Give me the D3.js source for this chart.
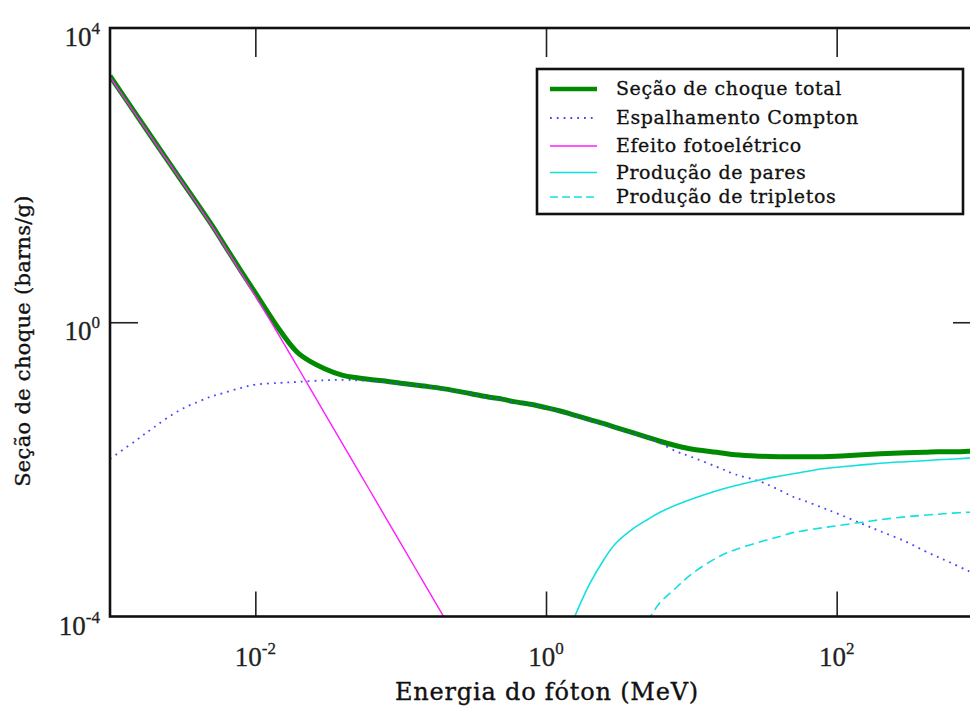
<!DOCTYPE html>
<html>
<head>
<meta charset="utf-8">
<script src="https://cdn.jsdelivr.net/npm/d3@7"></script>
<style>
  html, body { margin: 0; padding: 0; background: #fff; }
  svg { display: block; }
</style>
</head>
<body>
<svg id="chart" width="970" height="706"></svg>
<script>
// Photon energies (MeV) shared by every series
const energy = [0.001, 0.0015, 0.002, 0.003, 0.004, 0.005, 0.006, 0.008, 0.01, 0.015,
  0.02, 0.03, 0.04, 0.05, 0.06, 0.08, 0.1, 0.15, 0.2, 0.3,
  0.4, 0.5, 0.6, 0.8, 1, 1.25, 1.5, 2, 2.5, 3, 4,
  5, 6, 8, 10, 15, 20, 30, 40, 50, 60,
  80, 100, 150, 200, 300, 400, 500, 600, 800, 1000];

// Cross sections (barns/g); null where the process does not contribute
const total = [2228, 685, 298, 92.7, 40.6, 21.2, 12.0, 4.92, 2.51, 0.741,
  0.372, 0.233, 0.190, 0.176, 0.1675, 0.1574, 0.1479, 0.1346, 0.1243, 0.1075,
  0.0964, 0.0902, 0.0834, 0.0760, 0.0691, 0.0621, 0.0561, 0.0475, 0.0418, 0.0373, 0.0314,
  0.0273, 0.0243, 0.0208, 0.0189, 0.01706, 0.01579, 0.01507, 0.01483, 0.01483, 0.01483,
  0.01483, 0.01507, 0.01579, 0.0163, 0.01682, 0.01706, 0.01734, 0.01734, 0.01762, 0.0179];

const compton = [0.0139, 0.0245, 0.0372, 0.0635, 0.0824, 0.0982, 0.109, 0.1285, 0.142, 0.150,
  0.155, 0.1625, 0.165, 0.1625, 0.160, 0.152, 0.1455, 0.1334, 0.1233, 0.1064,
  0.0955, 0.0896, 0.0828, 0.0755, 0.0687, 0.0615, 0.0552, 0.0465, 0.0409, 0.0367, 0.0305,
  0.0269, 0.0230, 0.0173, 0.0148, 0.0108, 0.00857, 0.00679, 0.00528, 0.00425, 0.00374,
  0.00301, 0.00253, 0.00182, 0.00144, 0.00104, 0.000783, 0.00064, 0.000547, 0.000419, 0.000348];

const photo = [2160, 670, 293, 91, 39.6, 20.6, 11.6, 4.63, 2.28, 0.601,
  0.228, 0.0578, 0.0219, 0.0103, 0.00558, 0.00211, 0.000993, 0.000252, 0.0000957, null,
  null, null, null, null, null, null, null, null, null, null, null,
  null, null, null, null, null, null, null, null, null, null,
  null, null, null, null, null, null, null, null, null, null];

const pairs = [null, null, null, null, null, null, null, null, null, null,
  null, null, null, null, null, null, null, null, null, null,
  null, null, null, null, null, null, 0.0000798, 0.000279, 0.000591, 0.000975, 0.00158,
  0.00208, 0.00257, 0.00334, 0.00394, 0.00512, 0.00598, 0.00722, 0.00806, 0.00871, 0.00927,
  0.0102, 0.0107, 0.0115, 0.0121, 0.0127, 0.0131, 0.0135, 0.0137, 0.0142, 0.0144];

const triplets = [null, null, null, null, null, null, null, null, null, null,
  null, null, null, null, null, null, null, null, null, null,
  null, null, null, null, null, null, null, null, null, null, null,
  0.0000849, 0.000149, 0.000254, 0.000376, 0.00063, 0.000809, 0.00104, 0.00121, 0.00138, 0.00147,
  0.00161, 0.00171, 0.00191, 0.00207, 0.00227, 0.00238, 0.00246, 0.00253, 0.00261, 0.00265];

const xTicks = [1e-2, 1, 1e2];
const xTickExp = ["-2", "0", "2"];
const yTicks = [1e4, 1, 1e-4];
const yTickExp = ["4", "0", "-4"];

const legendLabels = ["Seção de choque total", "Espalhamento Compton", "Efeito fotoelétrico",
  "Produção de pares", "Produção de tripletos"];

// ---- layout ----
const plot = { left: 110, right: 982, top: 28, bottom: 616.5 };

const svg = d3.select("#chart");
svg.append("rect").attr("width", 970).attr("height", 706).attr("fill", "#fff");

const x = d3.scaleLog().domain([1e-3, 1e3]).range([plot.left, plot.right]);
const y = d3.scaleLog().domain([1e-4, 1e4]).range([plot.bottom, plot.top]);

svg.append("clipPath").attr("id", "plot-clip")
  .append("rect")
  .attr("x", plot.left).attr("y", plot.top)
  .attr("width", plot.right - plot.left).attr("height", plot.bottom - plot.top);

const series = [
  { values: total,    color: "#008a00", width: 5,   dash: null },
  { values: compton,  color: "#4646ff", width: 1.8, dash: "1.8,5" },
  { values: photo,    color: "#ff1cff", width: 1.4, dash: null },
  { values: pairs,    color: "#12e0e0", width: 1.6, dash: null },
  { values: triplets, color: "#12e0e0", width: 1.6, dash: "9,5" }
];

const line = d3.line()
  .defined(d => d[1] != null)
  .x(d => x(d[0]))
  .y(d => y(d[1]))
  .curve(d3.curveCatmullRom.alpha(0.5));

const curves = svg.append("g").attr("clip-path", "url(#plot-clip)");
series.forEach(s => {
  curves.append("path")
    .datum(energy.map((e, i) => [e, s.values[i]]))
    .attr("d", line)
    .attr("fill", "none")
    .attr("stroke", s.color)
    .attr("stroke-width", s.width)
    .attr("stroke-dasharray", s.dash)
    .attr("stroke-linejoin", "round");
});

// ---- axes: inward ticks on all four sides ----
const tickStyle = g => {
  g.select(".domain").remove();
  g.selectAll(".tick line").attr("stroke", "#222").attr("stroke-width", 1.6);
  g.selectAll(".tick text").remove();
};

svg.append("g").attr("transform", `translate(0,${plot.bottom})`)
  .call(d3.axisBottom(x).tickValues(xTicks).tickSize(-25).tickFormat(""))
  .call(tickStyle);
svg.append("g").attr("transform", `translate(0,${plot.top})`)
  .call(d3.axisTop(x).tickValues(xTicks).tickSize(-29).tickFormat(""))
  .call(tickStyle);
svg.append("g").attr("transform", `translate(${plot.left},0)`)
  .call(d3.axisLeft(y).tickValues([1]).tickSize(-28).tickFormat(""))
  .call(tickStyle);
svg.append("g").attr("transform", `translate(${plot.right},0)`)
  .call(d3.axisRight(y).tickValues([1]).tickSize(-29).tickFormat(""))
  .call(tickStyle);

svg.append("rect")
  .attr("x", plot.left).attr("y", plot.top)
  .attr("width", plot.right - plot.left).attr("height", plot.bottom - plot.top)
  .attr("fill", "none").attr("stroke", "#111").attr("stroke-width", 2.6);

// ---- tick labels as powers of ten ----
const labelFont = "'Liberation Serif', 'Times New Roman', serif";

xTicks.forEach((t, i) => {
  const txt = svg.append("text")
    .attr("x", x(t)).attr("y", plot.bottom + 49)
    .attr("text-anchor", "middle")
    .attr("font-family", labelFont).attr("fill", "#222")
    .attr("stroke", "#222").attr("stroke-width", 0.3);
  txt.append("tspan").attr("font-size", 27).text("10");
  txt.append("tspan").attr("font-size", 17).attr("dy", -12).text(xTickExp[i]);
});

yTicks.forEach((t, i) => {
  const txt = svg.append("text")
    .attr("x", 100).attr("y", y(t) + 18)
    .attr("text-anchor", "end")
    .attr("font-family", labelFont).attr("fill", "#222")
    .attr("stroke", "#222").attr("stroke-width", 0.3);
  txt.append("tspan").attr("font-size", 27).text("10");
  txt.append("tspan").attr("font-size", 17).attr("dy", -12).text(yTickExp[i]);
});

// ---- axis titles ----
const titleFont = "'DejaVu Serif', serif";
svg.append("text")
  .attr("x", (392 + 702) / 2).attr("y", 700)
  .attr("text-anchor", "middle")
  .attr("font-family", titleFont).attr("font-size", 24)
  .attr("letter-spacing", 0.8)
  .attr("fill", "#111").attr("stroke", "#111").attr("stroke-width", 0.35)
  .text("Energia do fóton (MeV)");

svg.append("text")
  .attr("transform", `translate(30,${341}) rotate(-90)`)
  .attr("text-anchor", "middle")
  .attr("font-family", titleFont).attr("font-size", 21)
  .attr("letter-spacing", 0.3)
  .attr("fill", "#111").attr("stroke", "#111").attr("stroke-width", 0.35)
  .text("Seção de choque (barns/g)");

// ---- legend ----
const legend = svg.append("g");
legend.append("rect")
  .attr("x", 537).attr("y", 69).attr("width", 426).attr("height", 145)
  .attr("fill", "#fff").attr("stroke", "#111").attr("stroke-width", 2.6);

const rowY = [89, 118, 146, 172.5, 197];
series.forEach((s, i) => {
  legend.append("line")
    .attr("x1", 550).attr("x2", 597)
    .attr("y1", rowY[i]).attr("y2", rowY[i])
    .attr("stroke", s.color)
    .attr("stroke-width", i === 0 ? 4.5 : s.width)
    .attr("stroke-dasharray", i === 4 ? "8,4" : s.dash);
  legend.append("text")
    .attr("x", 616).attr("y", rowY[i] + 6)
    .attr("font-family", titleFont).attr("font-size", 19)
    .attr("letter-spacing", 0.6)
    .attr("fill", "#111").attr("stroke", "#111").attr("stroke-width", 0.3)
    .text(legendLabels[i]);
});
</script>
</body>
</html>
